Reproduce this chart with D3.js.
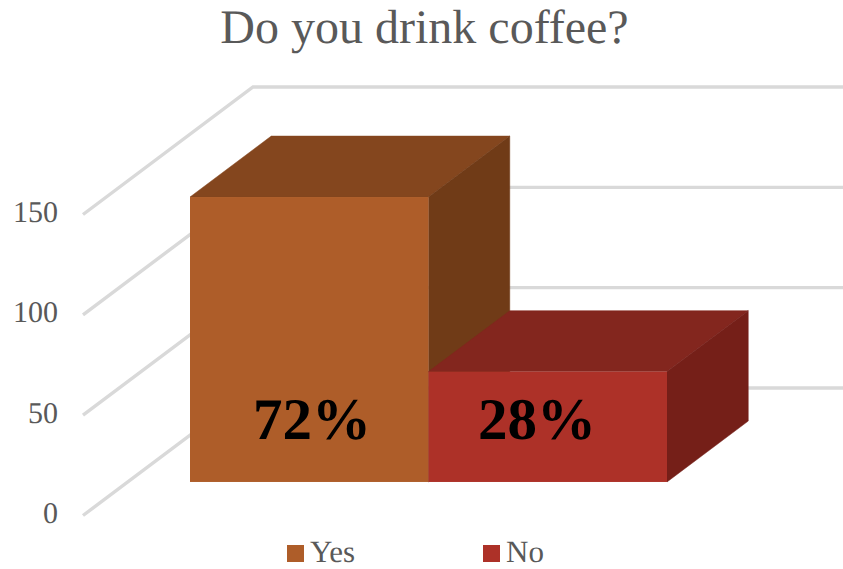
<!DOCTYPE html>
<html>
<head>
<meta charset="utf-8">
<script src="https://cdnjs.cloudflare.com/ajax/libs/d3/7.8.5/d3.min.js"></script>
<style>
  html, body { margin: 0; padding: 0; background: #fff; }
  svg { display: block; }
  text { font-family: "Liberation Serif", serif; text-rendering: geometricPrecision; }
</style>
</head>
<body>
<svg id="chart" width="843" height="569"></svg>
<script>
const chartTitle = "Do you drink coffee?";
const categories = ["Yes", "No"];
const responses = [142, 55];
const shareLabels = ["72%", "28%"];
const axisTicks = [0, 50, 100, 150];
const frontColors = ["#AE5D29", "#AD3128"];
const topColors = ["#84461E", "#83261E"];
const sideColors = ["#703B17", "#751F18"];

const svg = d3.select("#chart");

// Value axis runs along the front edge of the floor.
const y = d3.scaleLinear().domain([0, 150]).range([515.5, 214.5]);

// Oblique projection: depth 0 is the front of the floor, depth 1 the back wall.
const wallShift = { dx: 170, dy: -127.5 };
const project = (px, py, depth) => [px + wallShift.dx * depth, py + wallShift.dy * depth];

const barDepthFront = 0.263;
const barDepthBack = 0.741;

// Categories are laid out along the bars' front plane.
const x = d3.scaleBand().domain(categories).range([190, 667]).padding(0);

const line = d3.line();

// Gridlines: side wall plus back wall.
const axisX = 83;
const wallRight = 843;
svg.append("g").selectAll("path").data(axisTicks).join("path")
  .attr("d", t => line([
    [axisX, y(t)],
    project(axisX, y(t), 1),
    [wallRight, project(axisX, y(t), 1)[1]]
  ]))
  .attr("fill", "none")
  .attr("stroke", "#D9D9D9")
  .attr("stroke-width", 3.4);

// Three visible faces of each bar.
const bars = categories.map((c, i) => ({ c, i, v: responses[i] }));
const frontBaseY = project(axisX, y(0), barDepthFront)[1];
const riseOffset = v => y(0) - y(v);
const spanDx = wallShift.dx * (barDepthBack - barDepthFront);
const spanDy = wallShift.dy * (barDepthBack - barDepthFront);

const barG = svg.append("g").selectAll("g").data(bars).join("g");

barG.append("path")
  .attr("fill", d => topColors[d.i])
  .attr("stroke", d => topColors[d.i])
  .attr("stroke-width", 0.5)
  .attr("d", d => {
    const l = x(d.c), r = l + x.bandwidth(), t = frontBaseY - riseOffset(d.v);
    return line([[l, t], [r, t], [r + spanDx, t + spanDy], [l + spanDx, t + spanDy]]) + "Z";
  });

barG.append("path")
  .attr("fill", d => sideColors[d.i])
  .attr("stroke", d => sideColors[d.i])
  .attr("stroke-width", 0.5)
  .attr("d", d => {
    const r = x(d.c) + x.bandwidth(), t = frontBaseY - riseOffset(d.v);
    return line([[r, t], [r + spanDx, t + spanDy], [r + spanDx, frontBaseY + spanDy], [r, frontBaseY]]) + "Z";
  });

barG.append("rect")
  .attr("fill", d => frontColors[d.i])
  .attr("x", d => x(d.c))
  .attr("width", x.bandwidth())
  .attr("y", d => frontBaseY - riseOffset(d.v))
  .attr("height", d => riseOffset(d.v));

// Percentage labels sit on the bars' front faces at a shared height;
// each one is placed by its fraction along the bar's width.
const labelAlong = [0.512, 0.455];
svg.append("g").selectAll("text").data(bars).join("text")
  .attr("x", d => x(d.c) + x.bandwidth() * labelAlong[d.i])
  .attr("y", 439)
  .attr("text-anchor", "middle")
  .attr("font-size", 59)
  .attr("font-weight", "bold")
  .attr("fill", "#000")
  .text(d => shareLabels[d.i]);

// Value axis labels.
const axis = svg.append("g")
  .attr("transform", "translate(63,0)")
  .call(d3.axisLeft(y).tickValues(axisTicks).tickSize(0).tickPadding(5).tickFormat(d3.format("d")));
axis.select(".domain").remove();
axis.selectAll("text")
  .attr("font-family", "Liberation Serif")
  .attr("font-size", 30)
  .attr("fill", "#595959")
  .attr("dy", "0.23em");

svg.append("text")
  .attr("x", 424.5)
  .attr("y", 43)
  .attr("text-anchor", "middle")
  .attr("font-size", 48)
  .attr("fill", "#595959")
  .text(chartTitle);

// Legend along the bottom edge.
const legendX = d3.scalePoint().domain(categories).range([287, 483]);
const legend = svg.append("g").selectAll("g").data(bars).join("g")
  .attr("transform", d => `translate(${legendX(d.c)},545)`);
legend.append("rect")
  .attr("width", 17).attr("height", 17)
  .attr("fill", d => frontColors[d.i]);
legend.append("text")
  .attr("x", 23).attr("y", 17)
  .attr("font-size", 31)
  .attr("fill", "#595959")
  .text(d => d.c);
</script>
</body>
</html>
